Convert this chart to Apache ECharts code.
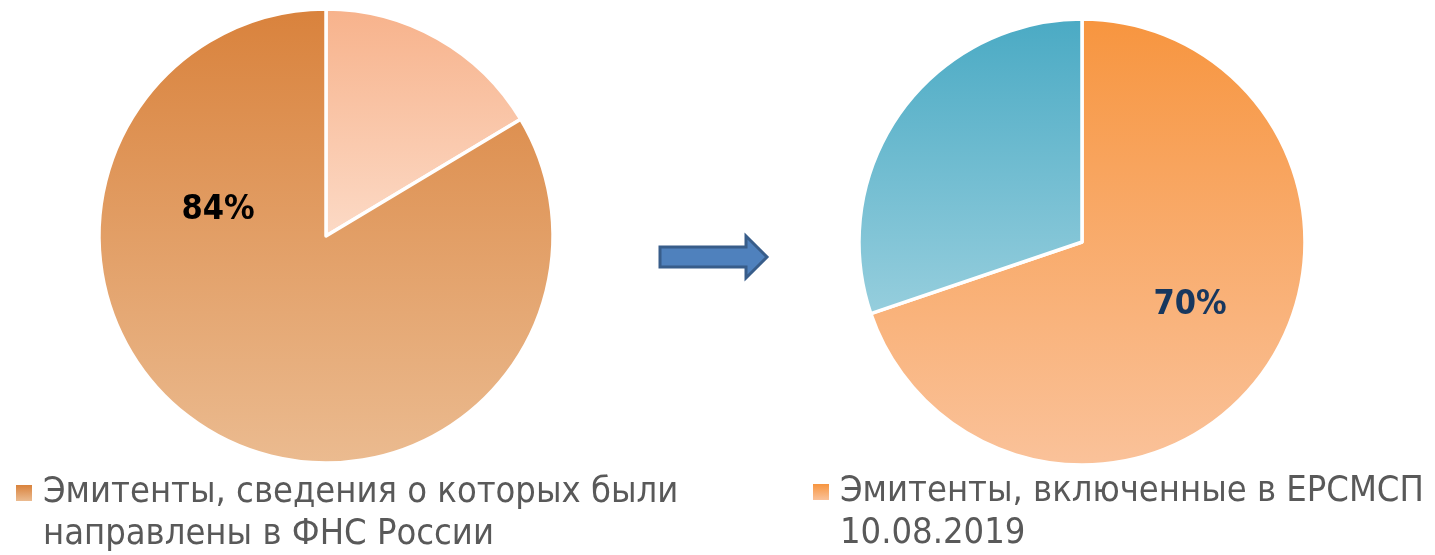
<!DOCTYPE html>
<html>
<head>
<meta charset="utf-8">
<script src="https://cdn.jsdelivr.net/npm/echarts@6/dist/echarts.min.js"></script>
<style>html,body{margin:0;padding:0;background:#fff}#c{width:1435px;height:555px}</style>
</head>
<body>
<div id="c"></div>
<script>
// ---- data ----
const leftNames = ['Прочие эмитенты', 'Эмитенты, сведения о которых были\nнаправлены в ФНС России'];
const leftValues = [16.4, 83.6];
const rightNames = ['Эмитенты, включенные в ЕРСМСП\n10.08.2019', 'Остальные эмитенты'];
const rightValues = [69.8, 30.2];
const labelShown = { left: [false, true], right: [true, false] };

// ---- styles ----
const FONT = '"DejaVu Sans Condensed", "DejaVu Sans", sans-serif';
const grad = (a, b) => new echarts.graphic.LinearGradient(0, 0, 0, 1, [
  { offset: 0, color: a }, { offset: 1, color: b }]);
const leftColors = [grad('#F7B28B', '#FCDAC6'), grad('#D9823C', '#EBBB90')];
const rightColors = [grad('#F7953F', '#FAC29A'), grad('#4AAAC4', '#96CEDD')];
const PL = { cx: 326, cy: 236, r: 227 };
const PR = { cx: 1082, cy: 242, r: 223 };

const chart = echarts.init(document.getElementById('c'), null, { renderer: 'canvas' });

function pieSeries(names, values, colors, shown, P, labelColor, labelLayout) {
  return {
    type: 'pie',
    center: [P.cx, P.cy],
    radius: [0, P.r],
    startAngle: 90,
    clockwise: true,
    avoidLabelOverlap: false,
    animation: false,
    itemStyle: { borderColor: '#fff', borderWidth: 3.5 },
    label: {
      position: 'inside',
      formatter: (p) => Math.round(p.percent) + '%',
      fontFamily: FONT,
      fontWeight: 'bold',
      fontSize: 34,
      color: labelColor
    },
    labelLine: { show: false },
    labelLayout: labelLayout,
    emphasis: { disabled: true },
    data: names.map((n, i) => ({
      name: n,
      value: values[i],
      itemStyle: { color: colors[i] },
      label: { show: shown[i] }
    }))
  };
}

const legendCommon = {
  orient: 'vertical',
  padding: 0,
  itemWidth: 16,
  itemHeight: 16,
  icon: 'rect',
  selectedMode: false,
  itemGap: 0,
  itemStyle: { borderWidth: 0 },
  formatter: (name) => '\n' + name.split('\n').map((s) => '{t|' + s + '}').join('\n'),
  textStyle: {
    fontFamily: FONT,
    fontSize: 36,
    color: '#595959',
    lineHeight: 42,
    rich: {
      t: {
        fontFamily: FONT,
        fontSize: 36,
        color: '#595959',
        lineHeight: 42,
        padding: [0, 0, 0, 6]
      }
    }
  }
};

chart.setOption({
  backgroundColor: '#fff',
  legend: [
    Object.assign({}, legendCommon, { data: [leftNames[1]], left: 16, top: 493 - 63 }),
    Object.assign({}, legendCommon, { data: [rightNames[0]], left: 813, top: 492 - 63 })
  ],
  series: [
    pieSeries(leftNames, leftValues, leftColors, labelShown.left, PL, '#000000',
      () => ({ x: PL.cx - 108, y: PL.cy - 26 })),
    pieSeries(rightNames, rightValues, rightColors, labelShown.right, PR, '#17375E',
      () => ({ x: PR.cx + 108, y: PR.cy + 63 }))
  ],
  graphic: [{
    type: 'polygon',
    shape: { points: [[660, 247], [746, 247], [746, 236], [767, 257], [746, 278], [746, 267], [660, 267]] },
    style: { fill: '#4F81BD', stroke: '#385D8A', lineWidth: 3 }
  }]
});
</script>
</body>
</html>
